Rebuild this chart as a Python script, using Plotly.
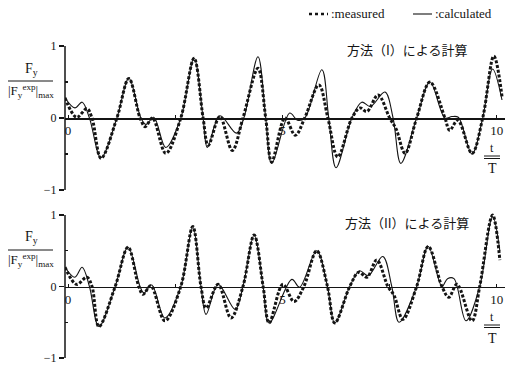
import plotly.graph_objects as go

W, H = 509, 366

# ---------------- data ----------------
# Panel 1: method (I)
t_meas_1 = [-0.07, 0.20, 0.44, 0.56, 0.77, 1.14, 1.42, 1.68, 1.80, 1.97, 2.28, 2.63, 2.94, 3.15,
            3.27, 3.54, 3.83, 4.08, 4.43, 4.61, 4.75, 5.06, 5.30, 5.52, 5.85, 6.06, 6.29, 6.62,
            6.81, 6.97, 7.23, 7.50, 7.65, 7.86, 8.13, 8.44, 8.79, 8.90, 9.09, 9.42, 9.67, 9.93, 10.12]
f_meas_1 = [0.28, 0.01, 0.13, 0.00, -0.56, 0.00, 0.55, 0.00, -0.12, 0.00, -0.49, 0.00, 0.83, 0.00,
            -0.38, 0.02, -0.45, 0.00, 0.69, 0.00, -0.61, 0.00, -0.24, 0.00, 0.46, 0.00, -0.54, 0.00,
            0.14, 0.09, 0.32, 0.00, -0.15, -0.49, 0.00, 0.50, 0.00, -0.17, -0.03, -0.49, 0.00, 0.86, 0.30]
t_calc_1 = [-0.07, 0.16, 0.33, 0.50, 0.77, 1.14, 1.42, 1.70, 1.82, 2.00, 2.28, 2.63, 2.94, 3.15,
            3.25, 3.54, 3.93, 4.10, 4.43, 4.61, 4.75, 5.17, 5.35, 5.52, 5.92, 6.08, 6.25, 6.62,
            6.85, 7.05, 7.39, 7.58, 7.76, 8.13, 8.44, 8.79, 8.95, 9.10, 9.42, 9.67, 9.90, 10.12]
f_calc_1 = [0.28, 0.14, 0.22, 0.00, -0.55, 0.00, 0.55, 0.00, -0.09, 0.01, -0.41, 0.00, 0.83, 0.00,
            -0.41, 0.03, -0.21, 0.00, 0.85, 0.00, -0.63, 0.07, -0.03, 0.00, 0.67, 0.00, -0.69, 0.00,
            0.22, 0.16, 0.36, 0.00, -0.63, 0.00, 0.50, 0.00, 0.02, 0.01, -0.50, 0.00, 0.68, 0.25]

# Panel 2: method (II)
t_meas_2 = [-0.07, 0.20, 0.44, 0.56, 0.72, 1.10, 1.40, 1.65, 1.75, 1.93, 2.26, 2.63, 2.91, 3.10,
            3.22, 3.50, 3.80, 4.08, 4.34, 4.55, 4.69, 5.01, 5.27, 5.50, 5.80, 6.05, 6.22, 6.57,
            6.78, 6.97, 7.20, 7.46, 7.60, 7.81, 8.13, 8.40, 8.72, 8.88, 9.07, 9.42, 9.60, 9.90, 10.07]
f_meas_2 = [0.27, 0.03, 0.13, 0.00, -0.56, 0.00, 0.55, 0.00, -0.11, 0.01, -0.48, 0.00, 0.84, 0.00,
            -0.30, 0.03, -0.44, 0.00, 0.72, 0.00, -0.51, 0.03, -0.21, 0.00, 0.50, 0.00, -0.51, 0.00,
            0.20, 0.13, 0.37, 0.00, -0.12, -0.46, 0.00, 0.56, 0.00, -0.15, 0.03, -0.48, 0.00, 1.00, 0.37]
t_calc_2 = [-0.07, 0.16, 0.33, 0.50, 0.72, 1.10, 1.40, 1.68, 1.77, 1.95, 2.26, 2.63, 2.91, 3.10,
            3.22, 3.50, 3.90, 4.08, 4.34, 4.55, 4.69, 5.22, 5.40, 5.80, 6.05, 6.22, 6.57,
            6.80, 7.00, 7.34, 7.55, 7.72, 8.13, 8.40, 8.72, 8.85, 9.00, 9.28, 9.60, 9.90, 10.07]
f_calc_2 = [0.27, 0.13, 0.27, 0.00, -0.56, 0.00, 0.55, 0.00, -0.09, 0.02, -0.44, 0.00, 0.84, 0.00,
            -0.39, 0.03, -0.32, 0.00, 0.72, 0.00, -0.51, 0.10, -0.01, 0.50, 0.00, -0.51, 0.00,
            0.22, 0.15, 0.42, 0.00, -0.50, 0.00, 0.56, 0.00, 0.11, 0.11, -0.48, 0.00, 0.98, 0.50]

x_tickvals = [0, 5, 10]
x_ticktext = ["0", "5", "10"]
x_minor_ticks = [2.5, 7.5]
y_tickvals = [-1, 0, 1]
y_ticktext = ["\u22121", "0", "1"]
y_minor_ticks = [-0.5, 0.5]
panel_titles = ["方法（I）による計算", "方法（II）による計算"]
legend_names = [":measured", ":calculated"]

# ---------------- layout helpers ----------------
def px(x):
    return x / W

def py(y):
    return 1 - y / H

SERIF = "Liberation Serif, Times New Roman, serif"
CJK = "Noto Sans CJK JP"
INK = "#141414"

X_RANGE = [-0.07, 10.19]
Y_RANGE = [-1.0, 1.1]
X_DOM = [px(65), px(505)]
# pixel rows of y=+1 and y=-1 for each panel
panel_rows = [(46, 190), (215, 358)]

fig = go.Figure()
layout = dict(template="none", width=W, height=H, autosize=False,
              margin=dict(l=0, r=0, t=0, b=0, pad=0),
              font=dict(family=SERIF, color=INK),
              paper_bgcolor="white", plot_bgcolor="white", showlegend=False)
shapes = []
annotations = []

series = [(t_meas_1, f_meas_1, t_calc_1, f_calc_1), (t_meas_2, f_meas_2, t_calc_2, f_calc_2)]

for i, ((p_top, p_bot), (tm, fm, tc, fc)) in enumerate(zip(panel_rows, series)):
    n = "" if i == 0 else str(i + 1)
    unit = (p_bot - p_top) / 2.0
    top_pix = p_top - (Y_RANGE[1] - 1.0) * unit
    ydom = [py(p_bot), py(top_pix)]
    zero_pos = ydom[0] + (0 - Y_RANGE[0]) / (Y_RANGE[1] - Y_RANGE[0]) * (ydom[1] - ydom[0])
    xa, ya = "x" + n, "y" + n

    fig.add_trace(go.Scatter(x=tc, y=fc, mode="lines", xaxis=xa, yaxis=ya,
                             line=dict(color=INK, width=1.1, shape="spline", smoothing=1.0),
                             name="calculated"))
    fig.add_trace(go.Scatter(x=tm, y=fm, mode="lines", xaxis=xa, yaxis=ya,
                             line=dict(color=INK, width=3, dash="3px,1.8px", shape="spline",
                                       smoothing=1.0),
                             name="measured"))

    layout["xaxis" + n] = dict(domain=X_DOM, range=X_RANGE, anchor="free", position=zero_pos,
                               showline=True, linecolor=INK, linewidth=1.5, ticks="inside",
                               ticklen=3, tickcolor=INK, tickvals=x_tickvals, ticktext=x_ticktext,
                               minor=dict(tickvals=x_minor_ticks, ticks="inside", ticklen=3,
                                          tickcolor=INK),
                               color=INK, tickfont=dict(family=SERIF, size=13, color=INK),
                               showgrid=False, zeroline=False)
    layout["yaxis" + n] = dict(domain=ydom, range=Y_RANGE, anchor=xa, showline=False,
                               ticks="outside", ticklen=5, tickcolor=INK, tickwidth=1.2,
                               tickvals=y_tickvals, ticktext=y_ticktext,
                               minor=dict(tickvals=y_minor_ticks, ticks="inside", ticklen=3,
                                          tickcolor=INK),
                               color=INK, tickfont=dict(family=SERIF, size=12, color=INK),
                               showgrid=False, zeroline=False)
    # vertical axis line from -1 to 1
    shapes.append(dict(type="line", xref=xa + " domain", yref=ya, x0=0, x1=0, y0=-1, y1=1,
                       line=dict(color=INK, width=1.5)))

    # y label fraction
    off = p_top - 46
    annotations.append(dict(text="F<sub>y</sub>", x=px(31), y=py(69 + off), xref="paper",
                            yref="paper", showarrow=False, xanchor="center", yanchor="middle",
                            font=dict(family=SERIF, size=14, color=INK)))
    shapes.append(dict(type="line", xref="paper", yref="paper", x0=px(8), x1=px(53),
                       y0=py(81 + off), y1=py(81 + off), line=dict(color=INK, width=1)))
    annotations.append(dict(text="|F<sub>y</sub><sup>exp</sup>|<sub>max</sub>", x=px(31),
                            y=py(91 + off), xref="paper", yref="paper", showarrow=False,
                            xanchor="center", yanchor="middle",
                            font=dict(family=SERIF, size=13, color=INK)))
    # t/T
    annotations.append(dict(text="t", x=px(492), y=py(148 + off), xref="paper", yref="paper",
                            showarrow=False, xanchor="center", yanchor="middle",
                            font=dict(family=SERIF, size=12, color=INK)))
    shapes.append(dict(type="line", xref="paper", yref="paper", x0=px(484), x1=px(500),
                       y0=py(156 + off), y1=py(156 + off), line=dict(color=INK, width=1)))
    shapes.append(dict(type="line", xref="paper", yref="paper", x0=px(484), x1=px(500),
                       y0=py(158.5 + off), y1=py(158.5 + off), line=dict(color=INK, width=1)))
    annotations.append(dict(text="T", x=px(492), y=py(169 + off), xref="paper", yref="paper",
                            showarrow=False, xanchor="center", yanchor="middle",
                            font=dict(family=SERIF, size=14, color=INK)))
    # method title
    annotations.append(dict(text=panel_titles[i], x=px(407), y=py(49 + off + (4 if i else 0)),
                            xref="paper", yref="paper", showarrow=False, xanchor="center",
                            yanchor="middle", font=dict(family=CJK, size=13, color=INK)))

# legend at the top
shapes.append(dict(type="line", xref="paper", yref="paper", x0=px(309), x1=px(328),
                   y0=py(14), y1=py(14), line=dict(color=INK, width=2.5, dash="dot")))
annotations.append(dict(text=legend_names[0], x=px(329), y=py(13), xref="paper", yref="paper",
                        showarrow=False, xanchor="left", yanchor="middle",
                        font=dict(family=SERIF, size=13, color=INK)))
shapes.append(dict(type="line", xref="paper", yref="paper", x0=px(413), x1=px(432),
                   y0=py(14), y1=py(14), line=dict(color=INK, width=1.1)))
annotations.append(dict(text=legend_names[1], x=px(433), y=py(13), xref="paper", yref="paper",
                        showarrow=False, xanchor="left", yanchor="middle",
                        font=dict(family=SERIF, size=13, color=INK)))

layout["shapes"] = shapes
layout["annotations"] = annotations
fig.update_layout(**layout)

fig.write_html("out.html", config={"displayModeBar": False, "staticPlot": True})
with open("out.html", "r", encoding="utf-8") as f:
    html = f.read()
html = html.replace("<head>", "<head><style>html,body{margin:0;padding:0;overflow:hidden}</style>", 1)
with open("out.html", "w", encoding="utf-8") as f:
    f.write(html)
